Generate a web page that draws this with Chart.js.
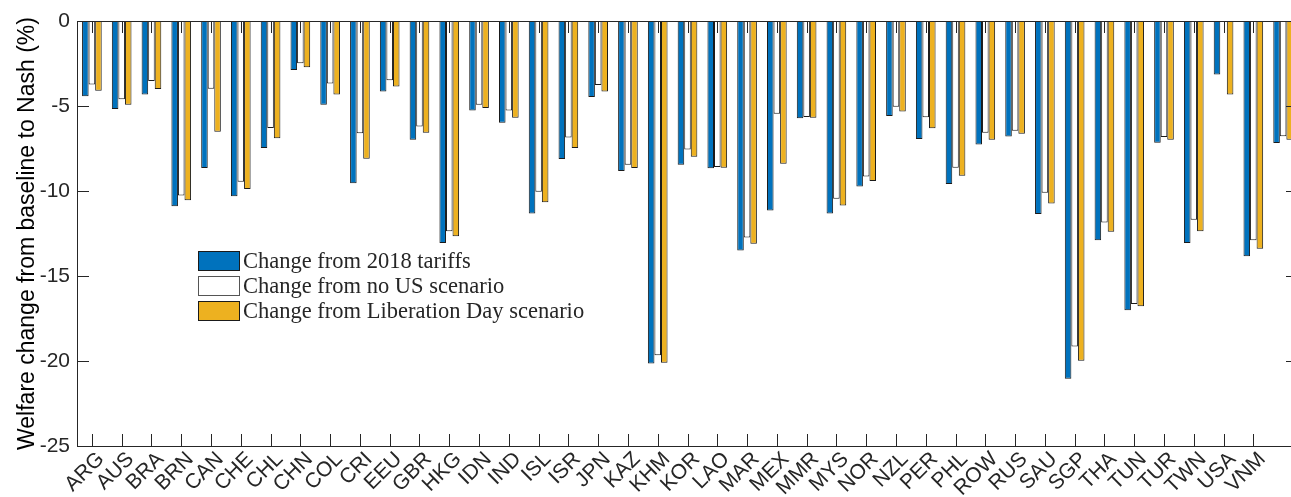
<!DOCTYPE html>
<html>
<head>
<meta charset="utf-8">
<script src="https://cdn.jsdelivr.net/npm/chart.js@4/dist/chart.umd.min.js"></script>
<style>
  html, body { margin: 0; padding: 0; overflow: hidden; background: #fff; }
  #wrap { position: relative; width: 1300px; height: 497px; }
</style>
</head>
<body>
<div id="wrap"><canvas id="c"></canvas></div>
<script>
// Country groups; the last group carries no tick label.
const categories = ['ARG','AUS','BRA','BRN','CAN','CHE','CHL','CHN','COL','CRI',
  'EEU','GBR','HKG','IDN','IND','ISL','ISR','JPN','KAZ','KHM',
  'KOR','LAO','MAR','MEX','MMR','MYS','NOR','NZL','PER','PHL',
  'ROW','RUS','SAU','SGP','THA','TUN','TUR','TWN','USA','VNM',''];

// Welfare change from baseline to Nash (%)
const change2018 = [-4.43,-5.17,-4.33,-10.90,-8.65,-10.31,-7.47,-2.88,-4.92,-9.55,
  -4.15,-6.98,-13.06,-5.27,-5.98,-11.33,-8.12,-4.47,-8.82,-20.15,
  -8.45,-8.66,-13.50,-11.15,-5.72,-11.33,-9.74,-5.59,-6.94,-9.59,
  -7.27,-6.80,-11.35,-21.04,-12.90,-17.02,-7.16,-13.06,-3.14,-13.84,-7.17];
const changeNoUS = [-3.74,-4.61,-3.53,-10.27,-3.98,-9.45,-6.29,-2.49,-3.68,-6.61,
  -3.49,-6.21,-12.37,-4.92,-5.27,-10.04,-6.86,-3.76,-8.45,-19.66,
  -7.56,-8.59,-12.74,-5.45,-5.65,-10.45,-9.15,-5.04,-5.66,-8.63,
  -6.57,-6.45,-10.10,-19.15,-11.86,-16.65,-6.82,-11.69,0,-12.90,-6.78];
const changeLibDay = [-4.10,-4.92,-4.00,-10.55,-6.51,-9.88,-6.90,-2.72,-4.33,-8.10,
  -3.86,-6.57,-12.66,-5.12,-5.69,-10.66,-7.47,-4.14,-8.64,-20.10,
  -7.98,-8.63,-13.10,-8.39,-5.69,-10.86,-9.41,-5.33,-6.31,-9.10,
  -6.98,-6.63,-10.74,-19.98,-12.39,-16.78,-6.98,-12.37,-4.33,-13.40,-6.98];

const yTicks = [0, -5, -10, -15, -20, -25];
const seriesNames = ['Change from 2018 tariffs', 'Change from no US scenario', 'Change from Liberation Day scenario'];
const seriesColors = ['#0072BD', '#FFFFFF', '#EDB120'];

const AXIS = '#262626';
const EDGE = '#1a1a1a';
const TICK_LEN = 12;
const SANS = '"Liberation Sans", Arial, Helvetica, sans-serif';
const SERIF = '"Liberation Serif", "Times New Roman", serif';

const points = vals => vals.map((v, i) => ({ x: i + 1, y: v }));

// Axes box with inward tick marks on all four sides
const boxAndTicks = {
  id: 'boxAndTicks',
  afterDatasetsDraw(chart) {
    const { ctx, chartArea: a, scales: { x, y } } = chart;
    ctx.save();
    ctx.strokeStyle = AXIS;
    ctx.lineWidth = 1;
    ctx.beginPath();
    categories.forEach((c, i) => {
      if (!c) return;
      const px = Math.round(x.getPixelForValue(i + 1)) + 0.5;
      ctx.moveTo(px, a.bottom); ctx.lineTo(px, a.bottom - TICK_LEN);
      ctx.moveTo(px, a.top); ctx.lineTo(px, a.top + TICK_LEN);
    });
    yTicks.forEach(v => {
      const py = Math.round(y.getPixelForValue(v)) + 0.5;
      ctx.moveTo(a.left, py); ctx.lineTo(a.left + TICK_LEN, py);
      ctx.moveTo(a.right, py); ctx.lineTo(a.right - TICK_LEN, py);
    });
    ctx.stroke();
    const l = Math.round(a.left) + 0.5, r = Math.round(a.right) - 0.5;
    const t = Math.round(a.top) + 0.5, b = Math.round(a.bottom) + 0.5;
    ctx.strokeRect(l, t, r - l, b - t);
    ctx.restore();
  }
};

// Legend drawn inside the axes, without a frame
const innerLegend = {
  id: 'innerLegend',
  afterDraw(chart) {
    const { ctx, chartArea: a } = chart;
    const x0 = a.left + 121, y0 = a.top + 230, row = 25, bw = 42, bh = 20;
    ctx.save();
    ctx.font = '22.5px ' + SERIF;
    ctx.textBaseline = 'middle';
    ctx.textAlign = 'left';
    chart.data.datasets.forEach((ds, i) => {
      const yy = y0 + i * row;
      ctx.fillStyle = ds.backgroundColor;
      ctx.fillRect(x0, yy, bw, bh);
      ctx.strokeStyle = i === 1 ? '#555' : EDGE;
      ctx.lineWidth = 1;
      ctx.strokeRect(x0 + 0.5, yy + 0.5, bw - 1, bh - 1);
      ctx.fillStyle = '#262626';
      ctx.fillText(ds.label, x0 + bw + 3, yy + bh / 2 + 1);
    });
    ctx.restore();
  }
};

const datasets = [change2018, changeNoUS, changeLibDay].map((vals, i) => ({
  label: seriesNames[i],
  data: points(vals),
  backgroundColor: seriesColors[i],
  borderColor: EDGE,
  borderWidth: 1,
  barPercentage: 1.0,
  categoryPercentage: 0.66
}));

new Chart(document.getElementById('c'), {
  type: 'bar',
  data: { datasets },
  plugins: [boxAndTicks, innerLegend],
  options: {
    responsive: true,
    maintainAspectRatio: false,
    animation: false,
    layout: { padding: { top: 21, right: 2, left: 0, bottom: 0 } },
    plugins: { legend: { display: false }, tooltip: { enabled: false } },
    scales: {
      x: {
        type: 'linear',
        offset: false,
        min: 0.5,
        max: 41.5,
        grid: { display: false, drawTicks: false, offset: false },
        border: { display: false },
        afterBuildTicks: s => {
          s.ticks = categories.map((c, i) => ({ value: i + 1 })).filter((t, i) => categories[i]);
        },
        afterFit: s => { s.height = 51; s.paddingLeft = 0; s.paddingRight = 0; },
        ticks: {
          autoSkip: false,
          minRotation: 45,
          maxRotation: 45,
          padding: 1,
          labelOffset: 9,
          color: AXIS,
          font: { family: SANS, size: 21 },
          callback: v => categories[v - 1] || ''
        }
      },
      y: {
        min: -25,
        max: 0,
        grid: { display: false, drawTicks: false },
        border: { display: false },
        afterBuildTicks: s => { s.ticks = yTicks.map(v => ({ value: v })); },
        afterFit: s => { s.width = 77; s.paddingTop = 0; s.paddingBottom = 0; },
        ticks: {
          padding: 7,
          color: AXIS,
          font: { family: SANS, size: 21 }
        },
        title: {
          display: true,
          text: 'Welfare change from baseline to Nash (%)',
          color: '#000',
          font: { family: SANS, size: 23 },
          padding: { top: 14, bottom: 0 }
        }
      }
    }
  }
});
</script>
</body>
</html>
